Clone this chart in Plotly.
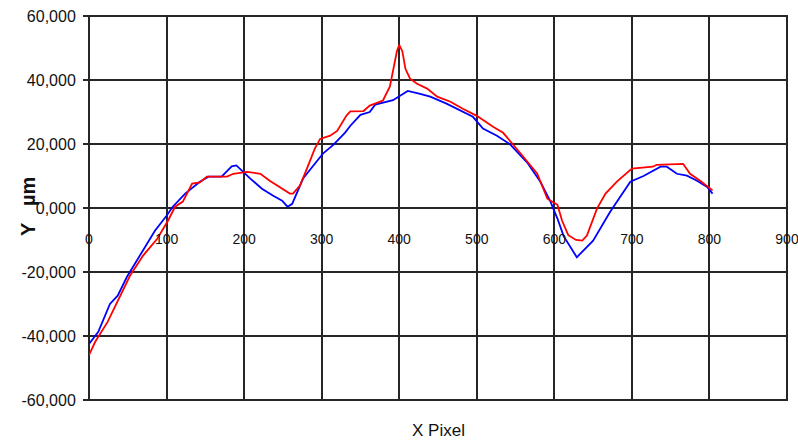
import plotly.graph_objects as go

# ---- data ----
blue_x = [0, 12, 27, 37, 49, 59, 72, 85, 100, 108, 124, 143, 154, 171, 184, 190,
          208, 223, 237, 249, 256, 262, 276, 289, 302, 315, 330, 337, 350, 362,
          369, 392, 401, 411, 427, 440, 461, 474, 495, 508, 526, 543, 565, 582,
          595, 604, 612, 629, 650, 672, 698, 715, 737, 745, 758, 771, 784, 797, 804]
blue_y = [-42500, -38700, -30000, -27400, -21500, -17400, -12100, -7100, -2400, 400,
          4500, 8200, 9800, 9800, 13000, 13300, 9200, 6000, 3900, 2300, 400, 1300,
          9200, 13300, 17100, 19700, 23500, 25700, 29100, 30000, 32300, 33700, 35200,
          36600, 35700, 34800, 32600, 31000, 28500, 24800, 22600, 19900, 14200, 8200,
          2000, -3300, -8800, -15400, -10200, -1200, 8200, 10000, 12900, 12900, 10700,
          10100, 8500, 6600, 4500]

red_x = [0, 8, 24, 40, 53, 70, 88, 102, 111, 121, 133, 143, 152, 178, 186, 204,
         221, 233, 246, 259, 263, 272, 281, 291, 298, 311, 320, 324, 332, 337, 354,
         362, 379, 388, 392, 397, 400, 404, 408, 414, 423, 436, 449, 466, 482, 500,
         521, 534, 556, 578, 591, 598, 604, 610, 618, 628, 636, 642, 655, 666, 681,
         700, 727, 732, 753, 766, 775, 788, 804]
red_y = [-46000, -41800, -35600, -27400, -21100, -14800, -9600, -3900, 400, 2000,
         7600, 8000, 9800, 9800, 10700, 11300, 10700, 8500, 6600, 4500, 4500, 7000,
         12300, 18500, 21600, 22600, 24100, 25700, 28900, 30200, 30300, 32000, 33600,
         38000, 43000, 49000, 51000, 49000, 43500, 40400, 38800, 37300, 34800, 33200,
         31000, 28800, 25400, 23500, 17200, 10700, 2900, 1900, 1000, -4000, -8500,
         -10000, -10200, -8600, -200, 4500, 8300, 12300, 12900, 13500, 13800, 13800,
         10700, 8500, 5500]

x_ticks = [0, 100, 200, 300, 400, 500, 600, 700, 800, 900]
x_tick_labels = ["0", "100", "200", "300", "400", "500", "600", "700", "800", "900"]
y_ticks = [60000, 40000, 20000, 0, -20000, -40000, -60000]
y_tick_labels = ["60,000", "40,000", "20,000", "0,000", "-20,000", "-40,000", "-60,000"]

FONT = "Liberation Sans Narrow, Arial Narrow, Liberation Sans, Arial, sans-serif"
GRID = "#262626"

fig = go.Figure()
fig.add_trace(go.Scatter(x=blue_x, y=blue_y, mode="lines",
                         line=dict(color="#0000FF", width=1.8), showlegend=False))
fig.add_trace(go.Scatter(x=red_x, y=red_y, mode="lines",
                         line=dict(color="#FF0000", width=1.8), showlegend=False))

plot_h = 442 - 16 - 42
plot_w = 798 - 89 - 11

fig.update_layout(
    width=798, height=442,
    margin=dict(l=89, r=11, t=16, b=42),
    paper_bgcolor="white", plot_bgcolor="white",
    showlegend=False,
    xaxis=dict(
        range=[0, 900], tickvals=x_ticks, ticktext=x_tick_labels,
        showgrid=True, gridcolor=GRID, gridwidth=2,
        zeroline=False, showline=False, automargin=False,
        anchor="free", position=(400 - 209.3) / plot_h,
        ticks="", ticklabelstandoff=20, ticklabeloverflow="allow",
        tickfont=dict(family=FONT, size=14, color="#111"),
    ),
    yaxis=dict(
        range=[-60000, 60000], tickvals=y_ticks, ticktext=y_tick_labels,
        showgrid=True, gridcolor=GRID, gridwidth=2,
        zeroline=False, showline=False, automargin=False,
        ticks="outside", ticklen=5, tickwidth=2, tickcolor=GRID,
        ticklabelstandoff=4,
        tickfont=dict(family=FONT, size=16, color="#111"),
    ),
    shapes=[dict(type="rect", xref="paper", yref="paper", x0=0, x1=1, y0=0, y1=1,
                 line=dict(color=GRID, width=2), layer="below")],
    annotations=[
        dict(text="X Pixel", xref="paper", yref="paper", x=0.5, y=(400 - 430) / plot_h,
             yanchor="middle", showarrow=False,
             font=dict(family=FONT, size=17, color="#111")),
        dict(text="<b>Y\u00a0\u00a0\u00a0µm</b>", textangle=-90, xref="paper", yref="paper",
             x=(15 - 89) / plot_w, y=(400 - 207) / plot_h, showarrow=False,
             font=dict(family="Liberation Sans, Arial, sans-serif", size=20, color="#111")),
    ],
)

fig.write_html("out.html")
